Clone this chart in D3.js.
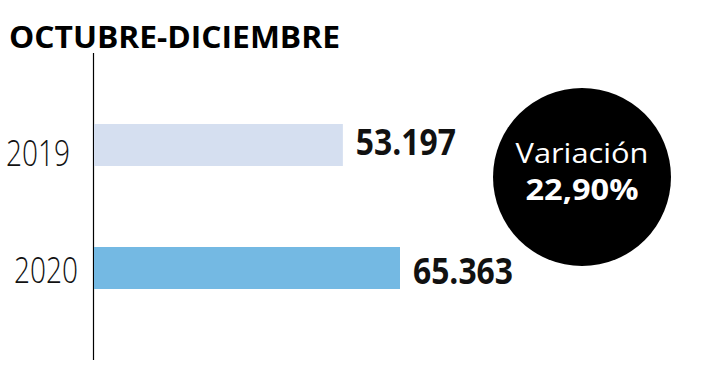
<!DOCTYPE html>
<html>
<head>
<meta charset="utf-8">
<script src="https://cdn.jsdelivr.net/npm/d3@7"></script>
<style>
body{margin:0;background:#fff;}
svg{display:block;font-family:"Open Sans",sans-serif;}
</style>
</head>
<body>
<svg id="chart" width="706" height="389"></svg>
<script>
const title="OCTUBRE-DICIEMBRE";
const years=["2019","2020"];
const values=[53197,65363];
const valueLabels=["53.197","65.363"];
const colors=["#d5dff0","#74b9e3"];
const variationLabel="Variación";
const variationValue="22,90%";

const svg=d3.select("#chart");

svg.append("text")
    .attr("x",9).attr("y",48)
    .attr("font-size",29.5).attr("font-weight",700)
    .attr("textLength",331).attr("lengthAdjust","spacingAndGlyphs")
    .text(title);

const x=d3.scaleLinear().domain([0,65363]).range([93,400]);
const band=d3.scalePoint().domain(years).range([145,268]);
const barH=42;

svg.append("line")
    .attr("x1",93.5).attr("x2",93.5).attr("y1",53).attr("y2",360)
    .attr("stroke","#000").attr("stroke-width",1.2);

svg.selectAll(".bar")
    .data(years)
    .enter()
    .append("rect")
    .attr("class","bar")
    .attr("x",x(0)+1)
    .attr("y",d=>band(d)-barH/2)
    .attr("width",(d,i)=>x(values[i])-x(0)-1)
    .attr("height",barH)
    .attr("fill",(d,i)=>colors[i]);

svg.selectAll(".year")
    .data(years)
    .enter()
    .append("text")
    .attr("class","year")
    .attr("x",(d,i)=>i?78:70)
    .attr("y",(d,i)=>band(d)+(i?15:21))
    .attr("text-anchor","end")
    .attr("font-size",36).attr("font-weight",300)
    .attr("textLength",64).attr("lengthAdjust","spacingAndGlyphs")
    .attr("fill","#111")
    .text(d=>d);

svg.selectAll(".val")
    .data(years)
    .enter()
    .append("text")
    .attr("class","val")
    .attr("x",(d,i)=>x(values[i])+13)
    .attr("y",(d,i)=>band(d)+(i?16:10))
    .attr("font-size",35).attr("font-weight",700)
    .attr("textLength",100).attr("lengthAdjust","spacingAndGlyphs")
    .attr("fill","#111")
    .text((d,i)=>valueLabels[i]);

const c=svg.append("g").attr("transform","translate(582,177)");
c.append("circle").attr("r",89).attr("fill","#000");
c.append("text")
    .attr("y",-14).attr("text-anchor","middle")
    .attr("font-size",28).attr("fill","#fff")
    .attr("textLength",133).attr("lengthAdjust","spacingAndGlyphs")
    .text(variationLabel);
c.append("text")
    .attr("y",23).attr("text-anchor","middle")
    .attr("font-size",28).attr("font-weight",700).attr("fill","#fff")
    .attr("textLength",113).attr("lengthAdjust","spacingAndGlyphs")
    .text(variationValue);
</script>
</body>
</html>
